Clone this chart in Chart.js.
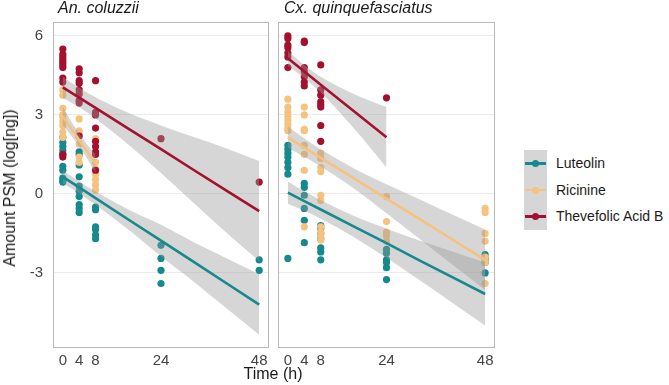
<!DOCTYPE html>
<html>
<head>
<meta charset="utf-8">
<script src="https://cdn.jsdelivr.net/npm/chart.js@4/dist/chart.umd.min.js"></script>
<style>
  body { margin: 0; background: #fff; font-family: "Liberation Sans", Arial, sans-serif; color: #1a1a1a; }
  #wrap { position: relative; width: 669px; height: 385px; overflow: hidden; }
  canvas { position: absolute; top: 0; }
  .strip { position: absolute; top: -1px; font-size: 16px; font-style: italic; white-space: nowrap; }
  .ytitle { position: absolute; left: 10px; top: 188px; font-size: 16px; white-space: nowrap;
            transform: translate(-50%, -50%) rotate(-90deg); }
  .xtitle { position: absolute; left: 273px; top: 365px; font-size: 16px; transform: translateX(-50%); white-space: nowrap; }
  #legend { position: absolute; left: 524px; top: 150px; }
  .row { position: relative; height: 26.5px; }
  .key { position: absolute; left: 0; top: 0; width: 23px; height: 26.5px; background: #d6d6d6; }
  .key i { position: absolute; left: 1px; top: 12px; width: 21px; height: 2.5px; }
  .key b { position: absolute; left: 8px; top: 10px; width: 7px; height: 7px; border-radius: 50%; }
  .lab { position: absolute; left: 32px; top: 5px; font-size: 14px; white-space: nowrap; }
</style>
</head>
<body>
<div id="wrap">
  <canvas id="anChart" width="275" height="385" style="left:0"></canvas>
  <canvas id="cxChart" width="230" height="385" style="left:270px"></canvas>
  <div class="strip" style="left:58px">An. coluzzii</div>
  <div class="strip" style="left:284px">Cx. quinquefasciatus</div>
  <div class="ytitle">Amount PSM (log[ng])</div>
  <div class="xtitle">Time (h)</div>
  <div id="legend"></div>
</div>
<script>
// sampling times and tick positions
const times = [0, 4, 8, 24, 48];
const xTicks = [0, 4, 8, 24, 48];
const yTicks = [-3, 0, 3, 6];

const compounds = ['Luteolin', 'Ricinine', 'Thevefolic Acid B'];
const colors = ['#15898d', '#f5c27f', '#a3112f'];

// An. coluzzii measurements, one list per sampling time
const anLuteolin = [
  [2.15, 1.95, 1.8, 1.65, 1.5, 1.05, 0.9, 0.6, 0.5, 0.45],
  [1.6, 1.5, 1.1, 0.65, 0.3, 0.1, -0.1, -0.4, -0.55, -0.7],
  [-0.5, -0.6, -1.25, -1.35, -1.55, -1.7],
  [-1.95, -2.45, -2.9, -3.4],
  [-2.5, -2.9]
];
const anRicinine = [
  [3.95, 3.75, 3.25, 3.0, 2.9, 2.75, 2.6, 2.35, 2.15],
  [2.85, 2.4, 2.3, 1.9, 1.4, 1.2],
  [2.1, 2.0, 1.2, 0.95, 0.75, 0.55, 0.35, 0.15],
  [],
  []
];
const anThevefolic = [
  [5.5, 5.3, 5.2, 5.1, 5.0, 4.9, 4.8, 4.4, 4.25, 1.5, 1.4],
  [4.75, 4.6, 4.3, 4.2, 3.95, 3.8, 3.55, 3.45, 2.2],
  [4.3, 3.1, 3.0, 2.5, 2.0, 1.8, 1.6, 1.5, 0.9],
  [2.1],
  [0.45]
];

// Cx. quinquefasciatus measurements
const cxLuteolin = [
  [1.85, 1.7, 1.55, 1.4, 1.2, 1.0, 0.75, -2.45],
  [0.4, 0.25, -0.05, -0.55, -1.0, -1.85],
  [-1.2, -1.3, -1.5, -1.7, -2.05, -2.2, -2.5],
  [-2.1, -2.25, -2.5, -2.6, -2.8, -3.25],
  [-2.3, -2.45, -2.6, -3.0]
];
const cxRicinine = [
  [3.6, 3.3, 3.1, 2.95, 2.8, 2.65, 2.5, 2.4],
  [3.3, 3.0, 2.45, 2.4, 1.85, 1.5, 0.9, -1.25],
  [1.55, 1.35, 1.0, 0.85, -0.05, -0.25, -1.25, -1.45, -1.6, -1.75],
  [-0.1, -1.05, -1.45, -1.6, -1.8],
  [-0.55, -0.7, -1.5, -1.8, -2.4, -2.6, -3.4]
];
const cxThevefolic = [
  [6.0, 5.9, 5.65, 5.55, 5.35, 5.2, 4.8],
  [5.8, 5.75, 4.8, 4.65, 4.45, 4.25, 4.1],
  [4.9, 3.95, 3.75, 3.5, 3.4, 3.3, 2.6, 2.0],
  [3.65],
  []
];

// linear fits and 95% bands, read at these times
const fitTimes = [0, 4, 8, 16, 24, 32, 40, 48];
const fitTimes8 = [0, 2, 4, 6, 8];
const fitTimes24 = [0, 4, 8, 16, 24];

const anLuteolinFit = [0.65, 0.25, -0.16, -0.97, -1.77, -2.58, -3.39, -4.2];
const anLuteolinLo = [0.4, 0.03, -0.41, -1.35, -2.37, -3.33, -4.34, -5.35];
const anLuteolinHi = [0.9, 0.47, 0.09, -0.59, -1.17, -1.83, -2.44, -3.05];
const anRicinineFit = [2.95, 2.5, 2.05, 1.6, 1.15];
const anRicinineLo = [2.6, 2.23, 1.8, 1.33, 0.8];
const anRicinineHi = [3.3, 2.77, 2.3, 1.87, 1.5];
const anThevFit = [4.05, 3.66, 3.27, 2.48, 1.7, 0.91, 0.13, -0.65];
const anThevLo = [3.65, 3.29, 2.87, 1.88, 0.8, -0.34, -1.47, -2.55];
const anThevHi = [4.45, 4.03, 3.67, 3.08, 2.6, 2.16, 1.73, 1.25];

const cxLuteolinFit = [0.05, -0.27, -0.59, -1.23, -1.87, -2.52, -3.16, -3.8];
const cxLuteolinLo = [-0.37, -0.64, -0.94, -1.63, -2.42, -3.27, -4.13, -5.0];
const cxLuteolinHi = [0.47, 0.1, -0.24, -0.83, -1.32, -1.77, -2.19, -2.6];
const cxRicinineFit = [2.15, 1.76, 1.37, 0.6, -0.18, -0.95, -1.73, -2.5];
const cxRicinineLo = [1.75, 1.41, 1.04, 0.22, -0.73, -1.7, -2.68, -3.65];
const cxRicinineHi = [2.55, 2.11, 1.7, 0.98, 0.37, -0.2, -0.78, -1.35];
const cxThevFit = [5.15, 4.65, 4.15, 3.15, 2.15];
const cxThevLo = [4.87, 4.4, 3.85, 2.5, 1.0];
const cxThevHi = [5.43, 4.9, 4.45, 3.8, 3.3];

function toPoints(groups) {
  const pts = [];
  groups.forEach((vals, i) => vals.forEach(v => pts.push({ x: times[i], y: v })));
  return pts;
}
function pair(xs, ys) {
  return xs.map((x, i) => ({ x: x, y: ys[i] }));
}

function buildDatasets(points, fits) {
  const ds = [];
  points.forEach((p, i) => {
    ds.push({
      type: 'scatter', data: toPoints(p), order: 20 - i,
      backgroundColor: colors[i], borderWidth: 0, pointRadius: 3.6
    });
  });
  fits.forEach((f, i) => {
    ds.push({
      type: 'line', data: pair(f.x, f.lo), order: 10 - i, borderWidth: 0,
      pointRadius: 0, fill: false, cubicInterpolationMode: 'monotone'
    });
    ds.push({
      type: 'line', data: pair(f.x, f.hi), order: 10 - i, borderWidth: 0,
      pointRadius: 0, fill: '-1', backgroundColor: 'rgba(153,153,153,0.4)',
      cubicInterpolationMode: 'monotone'
    });
    ds.push({
      type: 'line', data: pair(f.x, f.fit), order: 5 - i, borderColor: colors[i],
      borderWidth: 2.6, pointRadius: 0, fill: false
    });
  });
  return ds;
}

const panelBorder = {
  id: 'panelBorder',
  afterDraw(chart) {
    const a = chart.chartArea, c = chart.ctx;
    c.save();
    c.strokeStyle = '#b8b8b8';
    c.lineWidth = 1;
    c.strokeRect(a.left + 0.5, a.top + 0.5, a.right - a.left - 1, a.bottom - a.top - 1);
    c.restore();
  }
};

function makeChart(id, datasets, showY, pad) {
  return new Chart(document.getElementById(id).getContext('2d'), {
    type: 'scatter',
    data: { datasets: datasets },
    options: {
      responsive: false,
      animation: false,
      devicePixelRatio: 1,
      layout: { padding: pad },
      plugins: { legend: { display: false }, tooltip: { enabled: false } },
      scales: {
        x: {
          type: 'linear', min: -2.4, max: 50.4,
          afterBuildTicks: s => { s.ticks = xTicks.map(v => ({ value: v })); },
          afterFit: s => { s.height = 37; },
          grid: { display: false, drawTicks: false },
          border: { display: false },
          ticks: { color: '#444', font: { size: 15, family: 'Liberation Sans' }, padding: 4, maxRotation: 0 }
        },
        y: {
          min: -5.85, max: 6.53,
          afterBuildTicks: s => { s.ticks = yTicks.map(v => ({ value: v })); },
          afterFit: s => { s.width = showY ? 53 : 0; },
          grid: { color: '#ebebeb', lineWidth: 1, drawTicks: false },
          border: { display: false },
          ticks: { display: showY, color: '#444', font: { size: 15, family: 'Liberation Sans' }, padding: 10 }
        }
      }
    },
    plugins: [panelBorder]
  });
}

makeChart('anChart', buildDatasets(
  [anLuteolin, anRicinine, anThevefolic],
  [
    { x: fitTimes, fit: anLuteolinFit, lo: anLuteolinLo, hi: anLuteolinHi },
    { x: fitTimes8, fit: anRicinineFit, lo: anRicinineLo, hi: anRicinineHi },
    { x: fitTimes, fit: anThevFit, lo: anThevLo, hi: anThevHi }
  ]), true, { top: 22, right: 6, left: 0, bottom: 0 });

makeChart('cxChart', buildDatasets(
  [cxLuteolin, cxRicinine, cxThevefolic],
  [
    { x: fitTimes, fit: cxLuteolinFit, lo: cxLuteolinLo, hi: cxLuteolinHi },
    { x: fitTimes, fit: cxRicinineFit, lo: cxRicinineLo, hi: cxRicinineHi },
    { x: fitTimes24, fit: cxThevFit, lo: cxThevLo, hi: cxThevHi }
  ]), false, { top: 22, right: 5, left: 8, bottom: 0 });

// legend
const legend = document.getElementById('legend');
compounds.forEach((name, i) => {
  const row = document.createElement('div');
  row.className = 'row';
  row.innerHTML = '<div class="key"><i style="background:' + colors[i] + '"></i><b style="background:' +
    colors[i] + '"></b></div><div class="lab">' + name + '</div>';
  legend.appendChild(row);
});
</script>
</body>
</html>
